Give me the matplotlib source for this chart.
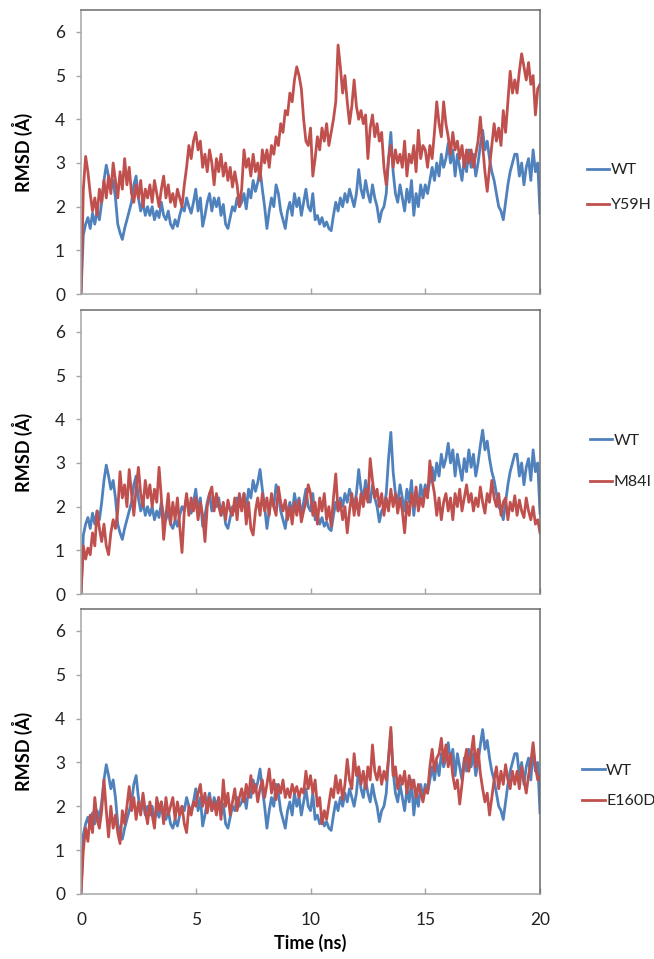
import numpy as np
import matplotlib
matplotlib.use("Agg")
import matplotlib.pyplot as plt

plt.rcParams['font.family'] = ['Lato', 'DejaVu Sans']

# time axis: one frame every 0.1 ns
time_ns = np.round(np.arange(0, 201) * 0.1, 1)

wt = [
    0.0, 1.35, 1.6, 1.75, 1.5, 1.85, 1.6, 1.9, 1.7, 2.1,
    2.6, 2.95, 2.7, 2.4, 2.6, 2.2, 1.6, 1.4, 1.25, 1.5,
    1.7, 1.9, 2.1, 2.5, 2.7, 2.2, 1.9, 2.1, 1.8, 2.0,
    1.8, 2.0, 1.7, 1.9, 1.75, 2.1, 1.8, 1.7, 1.9, 1.6,
    1.5, 1.7, 1.55, 1.8, 2.0, 1.9, 2.2, 2.0, 1.85, 2.1,
    2.4, 1.9, 2.2, 1.55, 1.8, 2.1, 2.3, 1.9, 2.2, 2.0,
    2.2, 1.8, 2.05, 1.6, 1.5, 1.75, 2.0, 1.9, 2.2, 2.0,
    2.1, 2.3, 1.95, 2.4, 2.2, 2.6, 2.35, 2.55, 2.85, 2.4,
    2.0, 1.5, 1.9, 2.2, 2.0, 2.5, 2.3, 1.9, 1.7, 1.5,
    1.9, 2.1, 1.8, 2.3, 2.0, 2.2, 1.8, 2.1, 2.4, 2.0,
    1.9, 2.3, 1.7, 1.8, 1.6, 1.75, 1.55, 1.65, 1.5, 1.45,
    1.8, 2.1, 1.9, 2.2, 2.0, 2.3, 2.1, 2.4, 2.2, 2.0,
    2.3, 2.85, 2.4, 2.2, 2.6, 2.3, 2.1, 2.5, 2.2, 2.0,
    1.65, 1.9, 2.0, 2.3, 3.1, 3.7, 2.8, 2.3, 2.1, 2.5,
    2.2, 1.9, 2.4, 2.1, 2.6, 1.8, 2.3, 2.0, 2.5, 2.2,
    2.5, 2.3, 2.6, 2.9, 2.6, 3.0, 2.7, 3.2, 2.9, 3.1,
    3.45, 3.0, 3.3, 2.7, 3.2, 2.9, 2.6, 3.1, 2.8, 3.3,
    2.9, 3.2, 2.7, 3.0, 3.4, 3.75, 3.3, 3.5, 3.1, 2.8,
    2.6, 2.3, 2.0, 1.9, 1.7, 2.1, 2.5, 2.8, 3.0, 3.2,
    3.2, 2.7, 3.0, 2.5, 2.9, 3.1, 2.6, 3.3, 2.8, 3.0,
    1.85,
]

y59h = [
    0.0, 2.4, 3.15, 2.8, 2.3, 1.9, 2.2, 1.8, 2.4, 2.1,
    2.6, 2.2, 2.7, 2.3, 3.0, 2.6, 2.2, 2.8, 2.4, 3.1,
    2.5, 2.9, 2.3, 2.1, 2.5, 2.2, 2.6, 2.0, 2.4, 2.2,
    2.5, 2.1, 2.6, 2.3, 2.0, 2.4, 2.7, 2.2, 2.5, 2.1,
    2.3, 2.0, 2.4, 2.2, 2.0, 2.5, 2.9, 3.4, 3.1, 3.5,
    3.7, 3.3, 3.5, 2.9, 3.2, 2.8, 3.3, 3.0, 2.5, 3.1,
    2.8, 3.2, 2.7, 3.0, 2.6, 2.9, 2.45, 2.8, 2.5, 2.0,
    2.4, 3.3, 2.9, 3.1, 2.7, 3.2, 2.8, 3.0, 2.6, 3.3,
    3.0, 3.3, 2.9, 3.4, 3.2, 3.6, 3.4, 3.9, 3.7, 4.2,
    4.1, 4.6, 4.4, 4.9, 5.2, 5.0, 4.7, 4.0, 3.5, 3.4,
    3.8, 2.7, 3.1, 3.6, 3.3, 3.8, 3.5, 3.9, 3.4, 3.7,
    4.0, 4.4, 5.7, 5.2, 4.6, 5.0, 4.4, 3.9, 4.3, 4.9,
    4.3, 4.0, 4.2, 3.9, 4.1, 3.1, 3.8, 4.1, 3.6, 3.9,
    3.5, 3.7, 2.9, 2.5, 3.1, 3.4, 2.9, 3.3, 3.0, 3.2,
    2.9, 3.5, 2.7, 3.2, 3.0, 3.4, 2.8, 3.75, 3.1, 3.4,
    3.3, 2.9, 3.4, 3.1, 3.7, 4.4, 3.9, 3.6, 4.4, 3.9,
    3.6, 3.2, 3.7, 3.3, 3.5, 3.1, 3.4, 2.9, 3.3, 3.0,
    3.3, 2.9, 3.2, 3.5, 4.05, 3.4, 2.8, 2.35, 2.9, 3.4,
    3.9, 3.5, 3.8, 3.4, 4.2, 3.7, 4.4, 5.1, 4.6, 4.9,
    4.6, 5.1, 5.5, 5.2, 4.9, 5.3, 4.8, 5.0, 4.1, 4.7,
    4.8,
]

m84i = [
    0.0, 1.1, 0.8, 1.05, 0.9, 1.4, 1.1, 1.9, 1.5, 1.2,
    1.6, 1.1, 0.9, 1.4, 1.7, 1.5, 1.9, 2.8, 2.2, 2.5,
    2.0, 2.85, 2.3, 1.8, 2.4, 2.9, 2.3, 2.0, 2.6, 2.2,
    2.5, 2.0, 2.4, 2.1, 2.9, 2.2, 1.25, 1.8, 2.3, 1.6,
    2.1, 1.7, 2.2, 1.55, 0.95, 1.9, 2.3, 1.8, 2.2, 1.9,
    2.2, 1.7, 2.1, 1.8, 1.2, 2.0, 2.3, 2.45, 1.9, 2.3,
    2.0, 1.8, 2.1, 1.7, 2.15, 1.9, 1.8, 2.2, 1.7, 2.3,
    1.9, 2.3, 1.6, 2.1, 1.5, 1.35, 1.9, 2.2, 1.8, 2.3,
    1.9, 2.2, 1.8, 2.3, 2.0, 1.8, 2.45, 2.1, 1.9, 2.15,
    1.7, 2.0, 1.6, 2.1, 1.8, 2.15, 1.65, 1.9, 2.1, 2.5,
    2.3, 1.8, 2.1, 1.6, 2.2, 1.9, 2.3, 1.7, 2.0, 1.55,
    2.2, 2.75, 1.9, 2.1, 1.7, 2.0, 1.4, 1.9, 2.3, 1.8,
    2.2, 1.8, 2.3, 2.0, 2.4, 2.1, 3.1, 2.6, 2.2, 2.4,
    2.0, 2.3, 1.8, 2.2, 1.9, 2.4, 2.0, 2.3, 1.85, 2.2,
    1.9, 1.4, 2.1, 1.8, 2.3, 2.0, 2.45, 1.9, 2.2, 2.0,
    2.4, 2.2, 3.05, 2.6, 2.3, 1.8, 2.2, 1.7, 2.1, 2.3,
    1.9, 2.2, 1.7, 2.3, 2.0, 2.4, 1.9, 2.2, 2.5, 2.1,
    2.3, 1.9, 2.2, 2.0, 2.45, 2.1, 1.85, 2.3, 2.1, 2.6,
    2.2, 2.0, 2.3, 1.8, 2.1, 2.2, 1.7, 2.1, 1.9, 2.25,
    1.8, 2.15, 1.9, 1.75, 2.2, 1.9, 1.7, 2.0, 1.6, 1.7,
    1.4,
]

e160d = [
    0.0, 1.0, 1.5, 1.2, 1.8, 1.4, 2.2, 1.7, 1.5, 1.9,
    2.6, 1.9, 1.3, 2.0, 1.5, 1.8, 1.4, 1.15, 1.9, 1.6,
    2.0, 2.45, 1.9, 2.2, 1.7, 2.1, 1.8, 2.3, 1.9, 1.6,
    2.1, 1.8, 1.5, 2.2, 1.9, 2.1, 1.6, 2.2, 1.8, 2.0,
    2.2, 1.7, 2.1, 1.8, 2.0, 1.6, 1.4, 2.0, 1.8, 2.1,
    2.0, 2.3, 2.5, 2.0, 2.3, 1.85, 2.2, 1.9, 2.1, 1.8,
    2.2, 1.7, 2.6, 2.0, 2.3, 1.8, 2.1, 2.4, 1.9, 2.2,
    2.4, 2.1, 2.5, 2.2, 2.7, 2.3, 2.5, 2.1, 2.4, 2.6,
    2.2, 2.5, 2.85, 2.3, 2.6, 2.15, 2.5, 2.3, 2.6, 2.2,
    2.4, 2.2, 2.5, 2.3, 2.45, 2.2, 2.4, 2.3, 2.8, 2.4,
    2.7, 2.3, 2.6, 2.0, 2.2, 1.6, 1.9, 1.7, 2.05, 2.4,
    2.2, 2.7, 2.3, 2.6, 2.15, 2.5, 3.07, 2.6, 2.4, 3.2,
    2.7, 2.9, 2.5, 2.8, 2.4, 2.9, 2.6, 3.4, 2.8, 2.6,
    2.9, 2.5, 2.8, 2.6, 3.1, 3.8, 2.7, 2.9, 2.4, 2.7,
    2.5, 2.8, 2.3, 2.7, 2.4, 2.6, 2.2, 2.5, 2.3, 2.1,
    2.4, 2.3, 2.9, 3.3, 2.8, 3.1, 3.2, 3.55, 3.0, 3.4,
    2.9, 3.2, 2.7, 2.4, 2.6, 2.05, 2.5, 3.0, 3.3, 2.8,
    3.2, 3.6, 2.9, 3.3, 2.75, 2.4, 2.1, 2.3, 1.8, 2.2,
    2.6, 2.9, 2.4, 2.8, 2.5, 2.95, 2.6, 2.4, 2.8, 2.5,
    2.8, 2.4, 2.9, 2.6, 2.3, 2.7, 3.0, 3.45, 2.9, 2.6,
    2.7,
]

mutants = [('Y59H', y59h), ('M84I', m84i), ('E160D', e160d)]

blue = '#4F81BD'
red = '#C0504D'

fig = plt.figure(figsize=(6.54, 9.59), dpi=100)

# axes boxes in figure fractions (left, bottom, width, height)
boxes = [
    (0.1239, 0.6934, 0.7018, 0.2961),
    (0.1239, 0.3806, 0.7018, 0.2961),
    (0.1239, 0.0678, 0.7018, 0.2972),
]
legend_x = [1.088, 1.095, 1.078]
legend_y = [0.375, 0.467, 0.379]
legend_sp = [1.3, 1.7, 1.0]

for i, (name, values) in enumerate(mutants):
    ax = fig.add_axes(boxes[i])
    ax.plot(time_ns, wt, color=blue, lw=2.0, label='WT')
    ax.plot(time_ns, values, color=red, lw=2.0, label=name)

    ax.set_xlim(0, 20)
    ax.set_ylim(0, 6.5)
    ax.set_xticks([0, 5, 10, 15, 20])
    ax.set_yticks(range(0, 7))

    for side in ['left', 'bottom']:
        ax.spines[side].set_color('#a6a6a6')
        ax.spines[side].set_linewidth(1.1)
    for side in ['top', 'right']:
        ax.spines[side].set_color('#6b6b6b')
        ax.spines[side].set_linewidth(1.1)

    ax.tick_params(axis='y', direction='out', length=3.5, width=1,
                   color='#a6a6a6', labelsize=12.5, pad=8, labelcolor='#222222')
    ax.tick_params(axis='x', direction='in', length=4, width=1,
                   color='#a6a6a6', labelsize=12.5, pad=13, labelcolor='#222222')
    if i < 2:
        ax.tick_params(axis='x', labelbottom=False)
    else:
        ax.set_xlabel('Time (ns)', fontsize=13, fontweight='bold', labelpad=4)

    ax.set_ylabel('RMSD (Å)', fontsize=13, fontweight='bold')
    ax.yaxis.set_label_coords(-0.105, 0.5)

    leg = ax.legend(loc='center left', bbox_to_anchor=(legend_x[i], legend_y[i]),
                    frameon=False, fontsize=11.5, handlelength=1.4,
                    handletextpad=0.1, labelspacing=legend_sp[i],
                    borderaxespad=0)
    for t in leg.get_texts():
        t.set_color('#222222')

fig.savefig('out.png', dpi=100)
